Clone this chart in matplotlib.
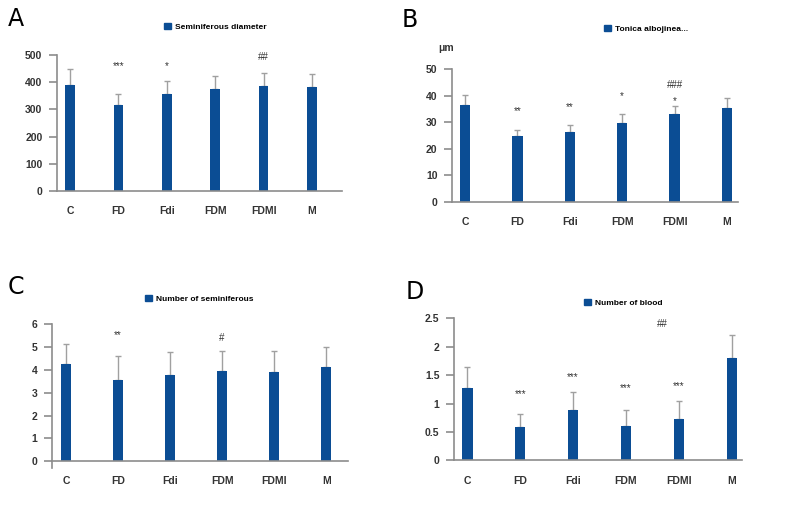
import matplotlib
matplotlib.use("Agg")
import matplotlib.pyplot as plt
from matplotlib.patches import Patch
import numpy as np

plt.rcParams['font.family'] = ['Liberation Sans', 'DejaVu Sans']

groups = ["C", "FD", "Fdi", "FDM", "FDMI", "M"]

# A - seminiferous diameter
diam_mean = [390, 316, 357, 376, 386, 381]
diam_err = [57, 42, 46, 45, 48, 48]
# B - tunica albuginea thickness
tunica_mean = [36.7, 24.7, 26.3, 29.6, 33.0, 35.6]
tunica_err = [3.8, 2.6, 2.9, 3.6, 3.0, 3.5]
# C - number of seminiferous tubules
num_sem_mean = [4.26, 3.56, 3.79, 3.97, 3.91, 4.11]
num_sem_err = [0.86, 1.04, 1.00, 0.88, 0.94, 0.88]
# D - number of blood vessels
blood_mean = [1.27, 0.59, 0.89, 0.61, 0.73, 1.80]
blood_err = [0.37, 0.22, 0.32, 0.27, 0.31, 0.41]

W, H = 787, 523
bar_col = '#0b4d94'
axis_col = '#8c8c8c'
err_col = '#a0a0a0'


def px_axes(fig, left, right, top, bottom):
    return fig.add_axes([left / W, 1 - bottom / H, (right - left) / W, (bottom - top) / H])


def panel(fig, box, means, errs, ylim, yticks, xlim, title, leg_xy, letter, letter_xy,
          notes, ylabels=None, below=0):
    ax = px_axes(fig, *box)
    x = np.arange(len(groups))
    ax.bar(x, means, width=0.2, color=bar_col, zorder=2)
    ax.errorbar(x, means, yerr=[np.zeros(len(errs)), errs], fmt='none',
                ecolor=err_col, elinewidth=1.0, capsize=2.5, capthick=1.0, zorder=1)
    ax.set_xlim(*xlim)
    ax.set_ylim(ylim[0] - below, ylim[1])
    ax.set_yticks(yticks)
    if ylabels is not None:
        ax.set_yticklabels(ylabels)
    ax.set_xticks(x)
    ax.set_xticklabels(groups)
    for s in ['top', 'right']:
        ax.spines[s].set_visible(False)
    for s in ['left', 'bottom']:
        ax.spines[s].set_color(axis_col)
        ax.spines[s].set_linewidth(1.2)
    if below:
        ax.spines['bottom'].set_position(('data', 0))
        ax.spines['left'].set_bounds(ylim[0] - below, ylim[1])
    ax.tick_params(axis='y', length=6, width=1.2, color=axis_col, pad=4.5,
                   labelsize=7.5, labelcolor='#333333')
    ax.tick_params(axis='x', length=0, pad=11, labelsize=7.5, labelcolor='#333333')
    for lab in ax.get_xticklabels() + ax.get_yticklabels():
        lab.set_fontweight('bold')
    for xi, yi, txt in notes:
        ax.text(xi, yi, txt, ha='center', va='center', fontsize=7, color='#333333')
    ax.legend(handles=[Patch(color=bar_col, label=title)], loc='center left',
              bbox_to_anchor=(leg_xy[0] / W, 1 - leg_xy[1] / H), bbox_transform=fig.transFigure,
              frameon=False, handlelength=0.8, handleheight=0.8, handletextpad=0.5,
              borderpad=0, borderaxespad=0, prop={'size': 6, 'weight': 'bold'})
    fig.text(letter_xy[0] / W, 1 - letter_xy[1] / H, letter, fontsize=17,
             family='DejaVu Sans', ha='left', va='center')
    return ax


fig = plt.figure(figsize=(W / 100, H / 100), dpi=100)

panel(fig, (57, 342, 55, 191), diam_mean, diam_err, (0, 500), [0, 100, 200, 300, 400, 500],
      (-0.27, 5.62), "Seminiferous diameter", (164, 27), "A", (8, 19),
      [(1, 460, "***"), (2, 460, "*"), (4, 494, "##")])

panel(fig, (452, 738, 69.3, 202), tunica_mean, tunica_err, (0, 50), [0, 10, 20, 30, 40, 50],
      (-0.25, 5.21), "Tonica albojinea...", (604, 29), "B", (402, 20),
      [(1, 34.2, "**"), (2, 35.6, "**"), (3, 39.8, "*"), (4, 38.0, "*"), (4, 44.1, "###")])
fig.text(438 / W, 1 - 48 / H, "μm", fontsize=7.5, fontweight='bold', color='#333333',
         ha='left', va='center')

panel(fig, (52, 348, 324.3, 468), num_sem_mean, num_sem_err, (0, 6), [0, 1, 2, 3, 4, 5, 6],
      (-0.27, 5.42), "Number of seminiferous", (145, 299), "C", (8, 287),
      [(1, 5.53, "**"), (3, 5.39, "#")], below=0.3)

panel(fig, (454, 742, 318.3, 460.3), blood_mean, blood_err, (0, 2.5),
      [0, 0.5, 1, 1.5, 2, 2.5], (-0.25, 5.19), "Number of blood", (584, 303), "D", (406, 292),
      [(1, 1.16, "***"), (2, 1.47, "***"), (3, 1.27, "***"), (4, 1.31, "***"), (3.68, 2.40, "##")],
      ylabels=["0", "0.5", "1", "1.5", "2", "2.5"])

fig.savefig("out.png", dpi=100)
